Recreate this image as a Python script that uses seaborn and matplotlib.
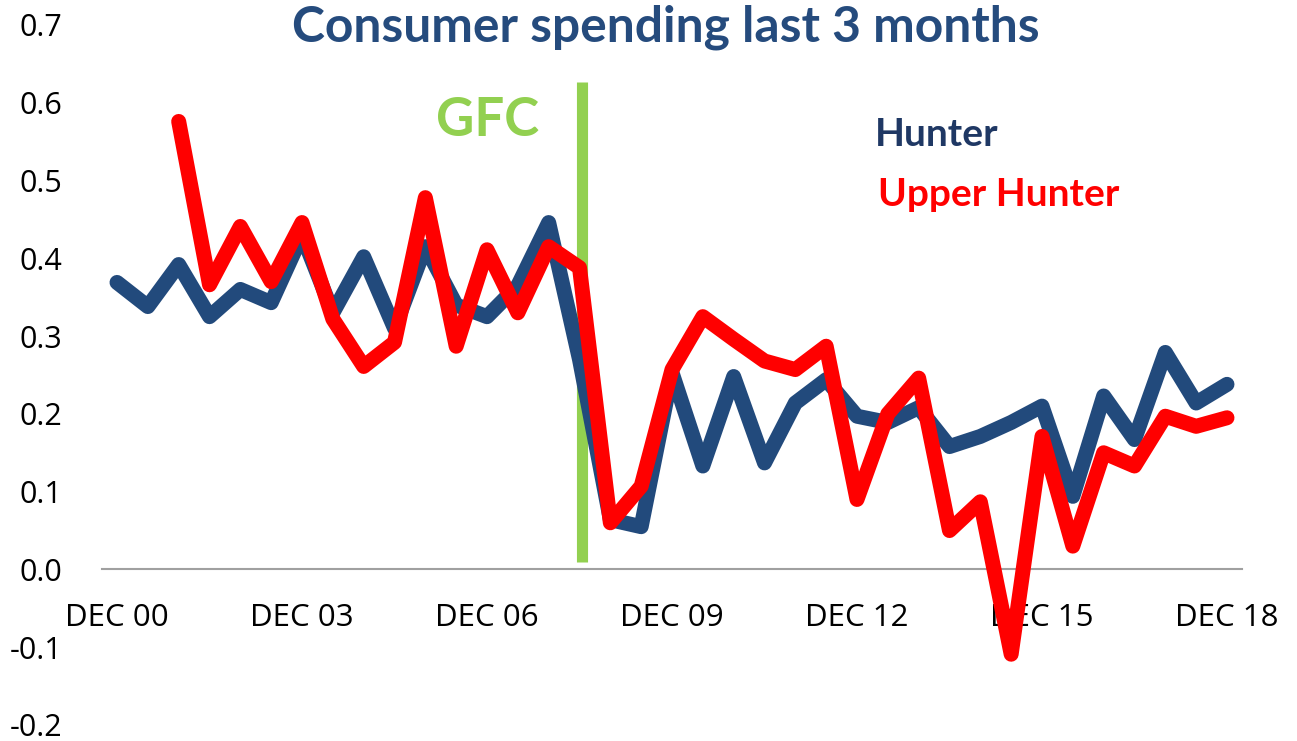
import numpy as np
import pandas as pd
import matplotlib
matplotlib.use("Agg")
import matplotlib.pyplot as plt
import seaborn as sns

# half-yearly periods, Dec 2000 .. Dec 2018
periods = [f"{m} {y:02d}" for y in range(0, 19) for m in ("JUN", "DEC")][1:]
hunter = [0.369, 0.338, 0.392, 0.325, 0.360, 0.343, 0.430, 0.330, 0.402, 0.310,
          0.415, 0.340, 0.325, 0.365, 0.446, 0.270, 0.064, 0.055, 0.253, 0.133,
          0.248, 0.137, 0.214, 0.244, 0.197, 0.189, 0.208, 0.158, 0.171, 0.189,
          0.210, 0.094, 0.223, 0.167, 0.279, 0.214, 0.238]
upper_hunter = [np.nan, np.nan, 0.576, 0.366, 0.441, 0.370, 0.446, 0.322, 0.261, 0.292,
                0.478, 0.287, 0.411, 0.330, 0.415, 0.388, 0.060, 0.107, 0.257, 0.325,
                0.296, 0.268, 0.257, 0.287, 0.090, 0.200, 0.246, 0.050, 0.087, -0.109,
                0.171, 0.030, 0.150, 0.133, 0.197, 0.184, 0.195]
tick_labels = ["DEC 00", "DEC 03", "DEC 06", "DEC 09", "DEC 12", "DEC 15", "DEC 18"]
y_ticks = [-0.2, -0.1, 0.0, 0.1, 0.2, 0.3, 0.4, 0.5, 0.6, 0.7]
gfc_pos = 15.07

sns.set_theme(style="white")
plt.rcParams['font.family'] = ['Open Sans', 'DejaVu Sans']

df = pd.DataFrame({"idx": np.arange(len(periods)), "period": periods,
                   "Hunter": hunter, "Upper Hunter": upper_hunter})
long = df.melt(id_vars=["idx", "period"], value_vars=["Hunter", "Upper Hunter"],
               var_name="series", value_name="value").dropna()

fig = plt.figure(figsize=(12.97, 7.41), dpi=100)
ax = fig.add_axes([101.6 / 1297, 16 / 741, (1242.4 - 101.6) / 1297, 700 / 741])

blue = "#224A7C"
red = "#FF0000"
green = "#92D050"

# GFC marker line
ax.plot([gfc_pos, gfc_pos], [0.009, 0.627], color=green, lw=8, solid_capstyle="butt", zorder=1)

sns.lineplot(data=long[long.series == "Hunter"], x="idx", y="value", color=blue,
             linewidth=10.8, ax=ax, legend=False, zorder=2)
sns.lineplot(data=long[long.series == "Upper Hunter"], x="idx", y="value", color=red,
             linewidth=10.8, ax=ax, legend=False, zorder=3)
for ln in ax.get_lines():
    ln.set_solid_joinstyle("round")
    ln.set_solid_capstyle("round")
ax.get_lines()[0].set_solid_capstyle("butt")

ax.set_xlim(-0.5, len(periods) - 0.5)
ax.set_ylim(-0.2, 0.7)
ax.set_xlabel("")
ax.set_ylabel("")

tick_pos = [periods.index(t) for t in tick_labels]
ax.set_xticks(tick_pos)
ax.set_xticklabels(tick_labels)
ax.set_yticks(y_ticks)
ax.set_yticklabels([f"{v:.1f}" for v in y_ticks])
ax.tick_params(axis="x", length=0, pad=24, labelsize=22.5, labelcolor="black")
ax.tick_params(axis="y", length=0, pad=28, labelsize=22, labelcolor="black")

for s in ["top", "right", "left"]:
    ax.spines[s].set_visible(False)
ax.spines["bottom"].set_position(("data", 0))
ax.spines["bottom"].set_color("#A0A0A0")
ax.spines["bottom"].set_linewidth(1.5)
ax.grid(False)

fig.text(666 / 1297, 1 - 27 / 741, "Consumer spending last 3 months", ha="center", va="center",
         fontsize=35.8, fontweight="bold", color="#254B7D", family=["Lato", "DejaVu Sans"])
fig.text(488 / 1297, 1 - 120 / 741, "GFC", ha="center", va="center",
         fontsize=38, fontweight="bold", color=green, family=["Lato", "DejaVu Sans"])
fig.text(875 / 1297, 1 - 135 / 741, "Hunter", ha="left", va="center",
         fontsize=28, fontweight="bold", color="#1F3864", family=["Lato", "DejaVu Sans"])
fig.text(878 / 1297, 1 - 195 / 741, "Upper Hunter", ha="left", va="center",
         fontsize=28, fontweight="bold", color=red, family=["Lato", "DejaVu Sans"])

fig.savefig("out.png", dpi=100)
